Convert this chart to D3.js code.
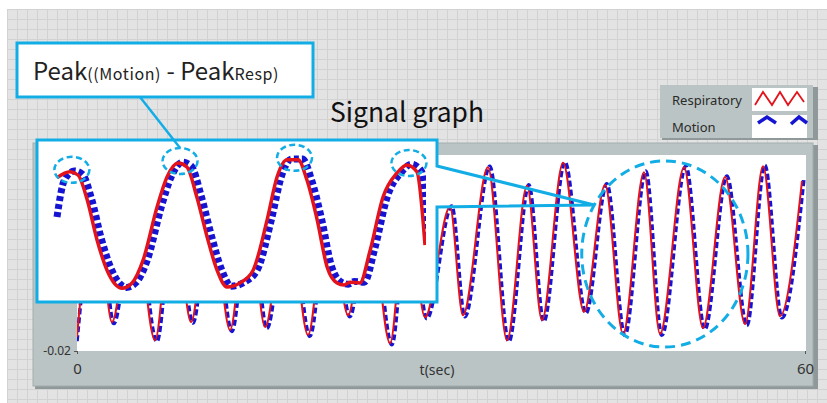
<!DOCTYPE html>
<html>
<head>
<meta charset="utf-8">
<script src="https://cdn.jsdelivr.net/npm/d3@7"></script>
<style>
  body { margin: 0; background: #fff; }
  svg { display: block; }
</style>
</head>
<body>
<svg id="chart" width="827" height="403"></svg>
<script>
// ---- data ----
// main graph, t in seconds, signal in arbitrary units
const respT = [0.00, 1.57, 2.88, 4.62, 6.43, 7.91, 9.40, 10.96, 12.61, 14.09, 15.50, 17.31, 19.04, 20.69, 22.34, 23.98, 25.80, 27.20, 28.68, 30.74, 31.81, 33.87, 35.44, 37.09, 38.32, 40.06, 41.79, 43.52, 45.00, 46.73, 48.05, 50.03, 51.59, 53.41, 55.06, 56.54, 57.94, 59.75];
const respV = [-0.0171, 0.0120, -0.0141, 0.0110, -0.0178, 0.0120, -0.0141, 0.0130, -0.0157, 0.0110, -0.0151, 0.0120, -0.0167, 0.0130, -0.0127, 0.0120, -0.0184, 0.0130, -0.0131, 0.0094, -0.0127, 0.0175, -0.0178, 0.0137, -0.0137, 0.0184, -0.0120, 0.0139, -0.0165, 0.0165, -0.0165, 0.0175, -0.0153, 0.0155, -0.0145, 0.0177, -0.0129, 0.0147];
const motionT = [0.00, 1.72, 3.03, 4.77, 6.58, 8.06, 9.55, 11.11, 12.76, 14.24, 15.65, 17.46, 19.19, 20.84, 22.49, 24.13, 25.95, 27.35, 28.83, 30.89, 31.96, 34.02, 35.59, 37.24, 38.47, 40.21, 41.94, 43.67, 45.15, 46.88, 48.20, 50.18, 51.74, 53.56, 55.21, 56.69, 58.09, 59.90];
const motionV = [-0.0180, 0.0122, -0.0144, 0.0112, -0.0181, 0.0121, -0.0143, 0.0131, -0.0160, 0.0112, -0.0154, 0.0121, -0.0170, 0.0131, -0.0130, 0.0121, -0.0187, 0.0132, -0.0134, 0.0096, -0.0130, 0.0177, -0.0181, 0.0139, -0.0140, 0.0186, -0.0123, 0.0141, -0.0168, 0.0167, -0.0168, 0.0177, -0.0156, 0.0157, -0.0148, 0.0179, -0.0132, 0.0149];

// zoomed inset (local time axis 0..10)
const insetT = [0, 0.35, 0.57, 0.82, 1.09, 1.36, 1.77, 2.04, 2.34, 2.72, 2.99, 3.29, 3.53, 3.80, 4.08, 4.35, 4.62, 4.97, 5.33, 5.71, 5.98, 6.25, 6.55, 6.79, 7.07, 7.34, 7.61, 7.80, 7.96, 8.23, 8.51, 8.86, 9.24, 9.51, 9.78, 10.0];
const insetResp = [0.0118, 0.0133, 0.0125, 0.0063, -0.0038, -0.0113, -0.0158, -0.0145, -0.0088, 0.0045, 0.0120, 0.0155, 0.0145, 0.0070, -0.0030, -0.0113, -0.0155, -0.0145, -0.0113, 0.0013, 0.0120, 0.0163, 0.0163, 0.0113, 0.0013, -0.0105, -0.0145, -0.0150, -0.0143, -0.0145, -0.0063, 0.0070, 0.0130, 0.0150, 0.0133, -0.0050];
const insetMotionT = [0.00, 0.20, 0.47, 0.69, 0.94, 1.21, 1.48, 1.89, 2.16, 2.46, 2.84, 3.11, 3.41, 3.65, 3.92, 4.20, 4.47, 4.74, 5.09, 5.45, 5.83, 6.10, 6.37, 6.67, 6.91, 7.19, 7.46, 7.73, 7.92, 8.08, 8.35, 8.63, 8.98, 9.36, 9.63, 9.90, 10.12];
const insetMotion = [0.0020, 0.0112, 0.0135, 0.0127, 0.0065, -0.0036, -0.0111, -0.0156, -0.0143, -0.0086, 0.0047, 0.0122, 0.0157, 0.0147, 0.0072, -0.0028, -0.0111, -0.0153, -0.0143, -0.0111, 0.0015, 0.0122, 0.0165, 0.0165, 0.0115, 0.0015, -0.0103, -0.0143, -0.0148, -0.0141, -0.0143, -0.0061, 0.0072, 0.0132, 0.0152, 0.0135, -0.0048];
const insetPeakT = [0.35, 3.29, 6.40, 9.51];
const insetPeakV = [0.0133, 0.0155, 0.0163, 0.0150];

// highlighted window on the main graph
const highlightT = [41.6, 55.3];
const highlightV = [-0.0192, 0.0188];

const xTicks = [0, 60];
const yTicks = [-0.02];
const seriesNames = ["Respiratory", "Motion"];

// ---- setup ----
const svg = d3.select("#chart");
const cyan = "#13ade6";
const red = "#e3121b";
const blue = "#1414d2";
const panelFill = "#bac4c4";

const defs = svg.append("defs");
const pat = defs.append("pattern")
  .attr("id", "grid")
  .attr("patternUnits", "userSpaceOnUse")
  .attr("x", 7).attr("y", 9)
  .attr("width", 10).attr("height", 10);
pat.append("rect").attr("width", 10).attr("height", 10).attr("fill", "#e3e3e3");
pat.append("path").attr("d", "M0.5 0V10M0 0.5H10").attr("stroke", "#d2d2d2").attr("stroke-width", 1);

svg.append("rect").attr("x", 7).attr("y", 9).attr("width", 820).attr("height", 394).attr("fill", "url(#grid)");

// graph panel
svg.append("rect").attr("x", 35).attr("y", 145).attr("width", 783).attr("height", 244).attr("fill", "#8f9999");
svg.append("rect").attr("x", 33).attr("y", 143).attr("width", 780).attr("height", 243).attr("fill", panelFill)
  .attr("stroke", "#a3adad").attr("stroke-width", 1);

// legend
svg.append("rect").attr("x", 662).attr("y", 87).attr("width", 156).attr("height", 53).attr("fill", "#8f9999");
svg.append("rect").attr("x", 660).attr("y", 85).attr("width", 153).attr("height", 53).attr("fill", panelFill);
const legendY = [88, 115];
seriesNames.forEach((name, i) => {
  svg.append("text").attr("x", 672).attr("y", legendY[i] + 17)
    .attr("font-family", "Noto Sans, DejaVu Sans, sans-serif").attr("font-size", 13)
    .attr("fill", "#2a2a2a").text(name);
  svg.append("rect").attr("x", 752).attr("y", legendY[i]).attr("width", 55).attr("height", 23)
    .attr("fill", "#fff");
});
svg.append("path").attr("d", "M755,105L763,92L772,105L780,92L788,105L797,92L804,102")
  .attr("fill", "none").attr("stroke", red).attr("stroke-width", 1.8);
svg.append("path").attr("d", "M758,123L767,117L776,123M791,124L799,117L807,123")
  .attr("fill", "none").attr("stroke", blue).attr("stroke-width", 3.5);

// title
svg.append("text").attr("x", 330).attr("y", 122)
  .attr("font-family", "Noto Sans CJK KR, Noto Sans, sans-serif").attr("font-size", 27)
  .attr("textLength", 154).attr("lengthAdjust", "spacingAndGlyphs")
  .attr("fill", "#111").text("Signal graph");

// ---- main plot ----
const plot = {left: 77, right: 806, top: 155, bottom: 351};
svg.append("rect").attr("x", plot.left).attr("y", plot.top)
  .attr("width", plot.right - plot.left).attr("height", plot.bottom - plot.top).attr("fill", "#fff");

const x = d3.scaleLinear().domain([0, 60]).range([77, 805]);
const y = d3.scaleLinear().domain([-0.02, 0.02]).range([351, 155]);

defs.append("clipPath").attr("id", "plotClip").append("rect")
  .attr("x", plot.left).attr("y", plot.top).attr("width", plot.right - plot.left).attr("height", plot.bottom - plot.top);

const line = d3.line().x(d => x(d[0])).y(d => y(d[1])).curve(d3.curveMonotoneX);
const gLines = svg.append("g").attr("clip-path", "url(#plotClip)");
gLines.append("path").datum(d3.zip(motionT, motionV)).attr("d", line)
  .attr("fill", "none").attr("stroke", blue).attr("stroke-width", 3.6).attr("stroke-dasharray", "6,3");
gLines.append("path").datum(d3.zip(respT, respV)).attr("d", line)
  .attr("fill", "none").attr("stroke", red).attr("stroke-width", 2);

// axes
const yAxis = svg.append("g").attr("transform", `translate(${plot.left},0)`)
  .call(d3.axisLeft(y).tickValues(yTicks).tickSize(3).tickPadding(3).tickFormat(d => d.toFixed(2)));
yAxis.select(".domain").remove();
yAxis.selectAll("text").attr("font-family", "Noto Sans, DejaVu Sans, sans-serif").attr("font-size", 12).attr("fill", "#333");
yAxis.selectAll("line").attr("stroke", "#555");

const xAxis = svg.append("g").attr("transform", `translate(0,${plot.bottom})`)
  .call(d3.axisBottom(x).tickValues(xTicks).tickSize(3).tickPadding(9).tickFormat(d3.format("d")));
xAxis.select(".domain").remove();
xAxis.selectAll("text").attr("font-family", "Noto Sans, DejaVu Sans, sans-serif").attr("font-size", 15).attr("fill", "#333");
xAxis.selectAll("line").attr("stroke", "#555");

svg.append("text").attr("x", 437).attr("y", 375).attr("text-anchor", "middle")
  .attr("font-family", "Noto Sans, DejaVu Sans, sans-serif").attr("font-size", 14).attr("fill", "#333")
  .text("t(sec)");

// highlight ellipse
const hcx = (x(highlightT[0]) + x(highlightT[1])) / 2;
const hrx = (x(highlightT[1]) - x(highlightT[0])) / 2;
const hcy = (y(highlightV[0]) + y(highlightV[1])) / 2;
const hry = (y(highlightV[0]) - y(highlightV[1])) / 2;
svg.append("ellipse").attr("cx", hcx).attr("cy", hcy).attr("rx", hrx).attr("ry", hry)
  .attr("fill", "none").attr("stroke", cyan).attr("stroke-width", 3).attr("stroke-dasharray", "10,6");

// ---- inset (zoomed view) ----
const inset = {left: 37, right: 437, top: 140, bottom: 302};
const tipY = 205;
const tipX = hcx - hrx * Math.sqrt(1 - Math.pow((tipY - hcy) / hry, 2));
svg.append("rect").attr("x", inset.left).attr("y", inset.top)
  .attr("width", inset.right - inset.left).attr("height", inset.bottom - inset.top).attr("fill", "#fff");

const ix = d3.scaleLinear().domain([0, 10]).range([57, 425]);
const iy = d3.scaleLinear().domain([-0.02, 0.02]).range([305, 145]);
defs.append("clipPath").attr("id", "insetClip").append("rect")
  .attr("x", 50).attr("y", inset.top + 2).attr("width", 376).attr("height", inset.bottom - inset.top - 4);
const iline = d3.line().x(d => ix(d[0])).y(d => iy(d[1])).curve(d3.curveMonotoneX);
const gInset = svg.append("g").attr("clip-path", "url(#insetClip)");
gInset.append("path").datum(d3.zip(insetMotionT, insetMotion)).attr("d", iline)
  .attr("fill", "none").attr("stroke", blue).attr("stroke-width", 7).attr("stroke-dasharray", "5,3");
gInset.append("path").datum(d3.zip(insetT, insetResp)).attr("d", iline)
  .attr("fill", "none").attr("stroke", red).attr("stroke-width", 3.5);

// inset border with pointer to the highlighted window
svg.append("path")
  .attr("d", `M${inset.left},${inset.top}H${inset.right}V166L${tipX},${tipY}L${inset.right},207V${inset.bottom}H${inset.left}Z`)
  .attr("fill", "none").attr("stroke", cyan).attr("stroke-width", 3).attr("stroke-linejoin", "miter");

// peak markers
insetPeakT.forEach((t, i) => {
  svg.append("ellipse").attr("cx", ix(t) + 2).attr("cy", iy(insetPeakV[i]) - 2)
    .attr("rx", 17.5).attr("ry", 13)
    .attr("fill", "none").attr("stroke", cyan).attr("stroke-width", 2.5).attr("stroke-dasharray", "6,3.5");
});

// callout
const peak2 = {x: ix(insetPeakT[1]) + 2, y: iy(insetPeakV[1]) - 2 - 13};
svg.append("line").attr("x1", 140).attr("y1", 97).attr("x2", peak2.x).attr("y2", peak2.y)
  .attr("stroke", cyan).attr("stroke-width", 2.5);
svg.append("rect").attr("x", 17).attr("y", 43).attr("width", 296).attr("height", 54)
  .attr("fill", "#fff").attr("stroke", cyan).attr("stroke-width", 3);
const callout = svg.append("text").attr("x", 33).attr("y", 80)
  .attr("font-family", "Noto Sans CJK KR, Noto Sans, sans-serif").attr("fill", "#222");
callout.append("tspan").attr("font-size", 24).text("Peak");
callout.append("tspan").attr("font-size", 16).attr("letter-spacing", 0.6).text("((Motion)");
callout.append("tspan").attr("font-size", 24).text(" - ");
callout.append("tspan").attr("font-size", 24).text("Peak");
callout.append("tspan").attr("font-size", 16).attr("letter-spacing", 0.6).text("Resp)");
</script>
</body>
</html>
